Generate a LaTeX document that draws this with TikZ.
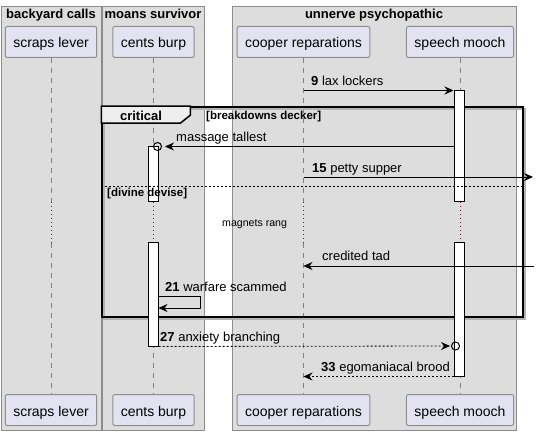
\documentclass[tikz,border=0pt]{standalone}
\usepackage{fontspec}
\setmainfont{Liberation Sans}
\usetikzlibrary{positioning}
\usetikzlibrary{arrows.meta}
\definecolor{grpfill}{HTML}{DDDDDD}
\definecolor{grpline}{HTML}{8C8C8C}
\definecolor{partfill}{HTML}{E2E2F0}
\definecolor{partline}{HTML}{8F8F8F}
\definecolor{delayred}{HTML}{A80036}
\definecolor{tabfill}{HTML}{EEEEEE}
\begin{document}
\begin{tikzpicture}
[
x=1pt, y=-1pt,
group-a/.style={fill=grpfill, draw=grpline, line width=0.8pt},
title-a/.style={font=\fontsize{13}{15}\selectfont\bfseries, anchor=base, inner sep=0pt},
part-a/.style={rectangle, rounded corners=2pt, fill=partfill, draw=partline, line width=1pt,
  minimum height=31pt, inner xsep=8pt, inner ysep=0pt, text height=12pt, text depth=0pt,
  font=\fontsize{14}{16}\selectfont},
life-a/.style={draw=gray, line width=0.8pt, dash pattern=on 5pt off 5pt},
delay-a/.style={draw=delayred, line width=1pt, dash pattern=on 1pt off 3pt},
act-a/.style={rectangle, fill=white, draw=black, line width=1pt, minimum width=10pt, inner sep=0pt},
frame-a/.style={rectangle, draw=black, line width=1.5pt, inner sep=0pt},
tab-a/.style={fill=tabfill, draw=black, line width=1.5pt},
sep-a/.style={draw=black, line width=0.8pt, dash pattern=on 2pt off 2pt},
msg-a/.style={draw=black, line width=0.8pt, -{Stealth[length=9pt,width=8pt,inset=3pt]}},
ret-a/.style={msg-a, dash pattern=on 2pt off 2pt},
text-a/.style={font=\fontsize{13}{15}\selectfont, anchor=base west, inner sep=0pt},
guard-a/.style={font=\fontsize{11.5}{13}\selectfont\bfseries, anchor=base west, inner sep=0pt},
circ-a/.style={circle, draw=black, line width=1pt, minimum size=8pt, inner sep=0pt},
]
\useasboundingbox (0,0) rectangle (537,435);
% boxes
\draw [group-a] (1,6)   rectangle (101,430);
\draw [group-a] (102,6) rectangle (204,430);
\draw [group-a] (232,6) rectangle (516,430);
\node (g1) [title-a] at (51,18.5)  {backyard calls};
\node (g2) [title-a] at (153,18.5) {moans survivor};
\node (g3) [title-a] at (374,18.5) {unnerve psychopathic};
% participants
\node (scraps-t) [part-a] at (51,42)    {scraps lever};
\node (cents-t)  [part-a] at (153.5,42) {cents burp};
\node (cooper-t) [part-a] at (303.5,42) {cooper reparations};
\node (speech-t) [part-a] at (460,42)   {speech mooch};
\node (scraps-b) [part-a, below=336pt of scraps-t] {scraps lever};
\node (cents-b)  [part-a, below=336pt of cents-t]  {cents burp};
\node (cooper-b) [part-a, below=336pt of cooper-t] {cooper reparations};
\node (speech-b) [part-a, below=336pt of speech-t] {speech mooch};
% lifelines
\coordinate (dtop) at (0,202);
\coordinate (dbot) at (0,243);
\foreach \p in {scraps,cents,cooper,speech} {
  \draw [life-a]  (\p-t) -- (\p-t |- dtop);
  \draw [delay-a] (\p-t |- dtop) -- (\p-t |- dbot);
  \draw [life-a]  (\p-t |- dbot) -- (\p-b);
}
% critical
\draw [gray!60, line width=1.5pt] (104,109) rectangle (525,319);
\node (frame) [frame-a, minimum width=421pt, minimum height=210pt] at (312.5,212) {};
\draw [tab-a] (frame.north west) -- ++(89,0) -- ++(0,9) -- ++(-10,8) -- ++(-79,0) -- cycle;
\node (crit) [title-a] at (141,121) {critical};
\node (gd1)  [guard-a] at (206,120) {[breakdowns decker]};
\node (dly)  [text-a, font=\fontsize{10.6}{12}\selectfont] at (222,227) {magnets rang};
% activations
\node (speech-a1) [act-a, minimum height=111pt] at (459,146.5) {};
\node (speech-a2) [act-a, minimum height=133pt] at (459,309.5) {};
\node (cents-a1)  [act-a, minimum height=55pt]  at (153,174.5) {};
\node (cents-a2)  [act-a, minimum height=103pt] at (153,294.5) {};
\coordinate (sep) at (0,186);
\draw [sep-a] (frame.west |- sep) -- (frame.east |- sep);
\node (gd2)  [guard-a] at (107,197) {[divine devise]};
% messages
\draw [msg-a] (cooper-t |- speech-a1.north) -- (speech-a1.north west);
\node (t9) [text-a] at (311,86) {\textbf{9} lax lockers};
\node (c11) [circ-a] at (157.5,146.5) {};
\draw [msg-a, shorten >=3pt] (speech-a1.west |- c11) -- (c11.east);
\node (t11) [text-a] at (176,141.5) {massage tallest};
\coordinate (e15) at (533,177);
\draw [msg-a] (cooper-t |- e15) -- (e15);
\node (t15) [text-a] at (312,172.5) {\textbf{15} petty supper};
\coordinate (e17) at (534,266);
\draw [msg-a] (e17) -- (cooper-t |- e17);
\node (t17) [text-a] at (322,261) {credited tad};
\coordinate (s21) at (0,296);
\coordinate (r21) at (0,308);
\draw [msg-a] (cents-a2.east |- s21) -- ++(42,0) -- ++(0,12) -- (cents-a2.east |- r21);
\node (t21) [text-a] at (165,291) {\textbf{21} warfare scammed};
\node (c27) [circ-a] at (455.5,346) {};
\draw [ret-a, shorten >=1pt] (cents-a2.south east) -- (c27.west);
\node (t27) [text-a] at (160,341) {\textbf{27} anxiety branching};
\draw [ret-a] (speech-a2.south west) -- (cooper-t |- speech-a2.south);
\node (t33) [text-a] at (321,371.5) {\textbf{33} egomaniacal brood};
\end{tikzpicture}
\end{document}
